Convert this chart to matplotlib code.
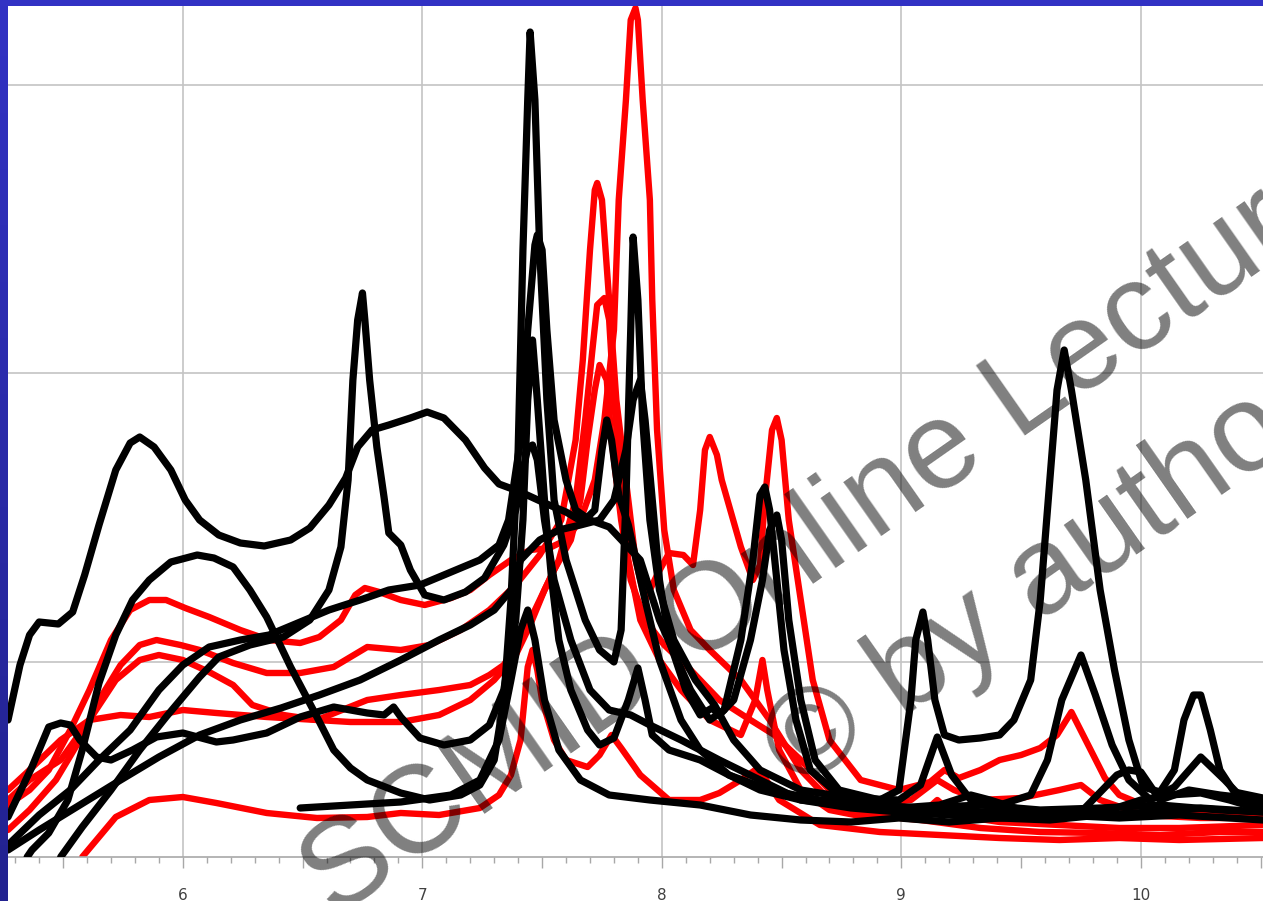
import matplotlib
matplotlib.use("Agg")
import matplotlib.pyplot as plt
import numpy as np
from matplotlib.patches import Rectangle
from matplotlib.ticker import MultipleLocator, FixedLocator, FixedFormatter
from matplotlib.colors import LinearSegmentedColormap

# ---------------- data (x = axis units, y = intensity, arbitrary units) ----------------
k1_x = [5.27, 5.32, 5.36, 5.40, 5.48, 5.54, 5.59, 5.65, 5.72, 5.78, 5.82, 5.88, 5.95, 6.01, 6.07, 6.15, 6.24, 6.34, 6.45,
        6.53, 6.61, 6.68, 6.73, 6.79, 6.86, 6.95, 7.02, 7.09, 7.18, 7.26, 7.32, 7.41, 7.51, 7.60, 7.67, 7.72, 7.75, 7.77,
        7.79, 7.82, 7.86, 7.93, 7.99, 8.08, 8.16, 8.28, 8.45, 8.66, 8.87, 9.08, 9.33, 9.58, 9.83, 10.08, 10.33, 10.51]
k1_y = [137, 192, 222, 235, 233, 245, 282, 332, 387, 414, 420, 410, 387, 357, 337, 322, 314, 311, 317,
        329, 352, 379, 410, 427, 432, 439, 445, 439, 417, 389, 373, 365, 354, 345, 335, 347, 407, 437,
        417, 362, 332, 257, 197, 137, 107, 82, 67, 57, 52, 49, 52, 47, 49, 52, 47, 45]

k2_x = [5.35, 5.37, 5.44, 5.52, 5.58, 5.65, 5.72, 5.79, 5.86, 5.95, 6.06, 6.13, 6.21, 6.28, 6.35, 6.45, 6.56, 6.63, 6.70,
        6.77, 6.91, 7.03, 7.16, 7.24, 7.30, 7.34, 7.37, 7.40, 7.42, 7.44, 7.45, 7.47, 7.49, 7.52, 7.55, 7.60, 7.68, 7.74,
        7.80, 7.83, 7.85, 7.87, 7.88, 7.90, 7.92, 7.95, 7.99, 8.05, 8.14, 8.22, 8.30, 8.41, 8.58, 8.79, 8.99, 9.08, 9.15,
        9.21, 9.29, 9.41, 9.54, 9.61, 9.67, 9.75, 9.81, 9.88, 9.95, 10.04, 10.14, 10.25, 10.35, 10.43, 10.51]
k2_y = [0, 7, 24, 57, 107, 174, 222, 257, 277, 295, 302, 299, 290, 267, 240, 190, 140, 107, 89,
        77, 64, 57, 62, 72, 97, 157, 257, 407, 607, 757, 825, 757, 607, 457, 357, 297, 237, 207,
        195, 227, 357, 527, 620, 557, 437, 337, 267, 217, 177, 152, 117, 87, 67, 59, 57, 72, 120,
        82, 57, 52, 62, 97, 157, 202, 162, 112, 77, 57, 70, 100, 77, 57, 52]

k3_x = [5.27, 5.40, 5.53, 5.65, 5.78, 5.90, 6.00, 6.11, 6.24, 6.36, 6.49, 6.61, 6.74, 6.86, 6.99, 7.12, 7.24, 7.32, 7.36,
        7.41, 7.44, 7.47, 7.48, 7.50, 7.52, 7.55, 7.60, 7.64, 7.70, 7.78, 7.91, 7.99, 8.12, 8.20, 8.26, 8.33, 8.38, 8.41,
        8.43, 8.45, 8.48, 8.51, 8.56, 8.62, 8.74, 8.91, 9.12, 9.37, 9.62, 9.87, 10.00, 10.12, 10.25, 10.37, 10.51]
k3_y = [12, 42, 67, 97, 127, 167, 192, 210, 217, 222, 235, 247, 257, 267, 272, 285, 297, 312, 337,
        417, 527, 612, 622, 607, 527, 437, 377, 347, 337, 330, 297, 237, 167, 137, 147, 217, 297, 362,
        370, 347, 277, 207, 137, 87, 62, 52, 47, 45, 42, 47, 57, 62, 64, 57, 47]

k4_x = [5.49, 5.58, 5.70, 5.82, 5.93, 6.07, 6.15, 6.28, 6.42, 6.53, 6.61, 6.66, 6.69, 6.71, 6.73, 6.75, 6.76, 6.78, 6.81,
        6.84, 6.86, 6.91, 6.95, 7.01, 7.09, 7.18, 7.26, 7.34, 7.39, 7.42, 7.44, 7.46, 7.48, 7.51, 7.55, 7.62, 7.70, 7.78,
        7.87, 7.95, 8.08, 8.24, 8.41, 8.58, 8.79, 8.99, 9.20, 9.41, 9.66, 9.91, 10.16, 10.51]
k4_y = [0, 30, 67, 107, 140, 180, 200, 212, 220, 237, 267, 310, 377, 477, 537, 564, 537, 477, 410,
        360, 324, 312, 287, 262, 257, 265, 279, 312, 347, 387, 409, 412, 397, 337, 277, 217, 167, 147,
        142, 132, 117, 97, 77, 57, 49, 45, 42, 39, 42, 39, 42, 37]

k5_x = [5.27, 5.37, 5.44, 5.49, 5.53, 5.57, 5.64, 5.70, 5.79, 5.89, 6.00, 6.14, 6.21, 6.35, 6.49, 6.63, 6.77, 6.84, 6.88,
        6.91, 6.99, 7.09, 7.20, 7.28, 7.34, 7.39, 7.42, 7.44, 7.46, 7.48, 7.51, 7.54, 7.57, 7.62, 7.69, 7.74, 7.80, 7.86,
        7.90, 7.93, 7.96, 8.03, 8.16, 8.28, 8.41, 8.58, 8.79, 8.99, 9.16, 9.29, 9.37, 9.50, 9.75, 9.90, 9.95, 10.00,
        10.08, 10.20, 10.33, 10.51]
k5_y = [40, 90, 130, 134, 132, 117, 100, 97, 107, 120, 124, 115, 117, 124, 140, 150, 144, 142, 150,
        140, 119, 112, 117, 132, 167, 237, 337, 457, 517, 457, 357, 277, 217, 167, 127, 112, 119, 157,
        189, 157, 122, 107, 97, 82, 67, 57, 52, 49, 52, 62, 57, 47, 45, 82, 87, 85,
        57, 67, 62, 57]

k6_x = [5.27, 5.40, 5.57, 5.74, 5.90, 6.07, 6.24, 6.41, 6.57, 6.74, 6.91, 7.07, 7.20, 7.30, 7.37, 7.41, 7.49, 7.57, 7.66,
        7.74, 7.80, 7.85, 7.88, 7.91, 7.93, 7.96, 7.99, 8.03, 8.10, 8.16, 8.21, 8.24, 8.30, 8.37, 8.42, 8.45, 8.48, 8.50,
        8.53, 8.58, 8.64, 8.74, 8.91, 8.99, 9.04, 9.06, 9.09, 9.11, 9.14, 9.18, 9.24, 9.33, 9.41, 9.47, 9.54, 9.58, 9.62,
        9.65, 9.68, 9.71, 9.77, 9.83, 9.89, 9.95, 10.01, 10.08, 10.14, 10.18, 10.22, 10.25, 10.29, 10.33, 10.39, 10.51]
k6_y = [7, 27, 52, 77, 100, 122, 137, 149, 162, 177, 197, 217, 232, 247, 267, 297, 317, 327, 332,
        337, 357, 407, 457, 477, 437, 357, 277, 217, 167, 142, 149, 142, 157, 217, 277, 327, 342, 317,
        237, 157, 97, 67, 57, 67, 157, 217, 245, 217, 157, 122, 117, 119, 122, 137, 177, 257, 377,
        467, 507, 467, 377, 267, 187, 117, 70, 65, 87, 137, 162, 162, 127, 87, 65, 59]

k7_x = [6.49, 6.70, 6.91, 7.12, 7.24, 7.32, 7.37, 7.41, 7.44, 7.47, 7.51, 7.57, 7.66, 7.78, 7.95, 8.16, 8.37, 8.58, 8.79,
        8.99, 9.20, 9.41, 9.62, 9.83, 10.04, 10.25, 10.51]
k7_y = [49, 52, 55, 62, 77, 117, 177, 227, 247, 217, 157, 107, 77, 62, 57, 52, 42, 37, 35,
        39, 35, 39, 37, 42, 45, 49, 45]

r1_x = [5.27, 5.36, 5.44, 5.53, 5.61, 5.70, 5.78, 5.86, 5.93, 6.01, 6.11, 6.24, 6.36, 6.49, 6.57, 6.66, 6.72, 6.76, 6.82,
        6.91, 7.01, 7.12, 7.20, 7.28, 7.37, 7.45, 7.53, 7.60, 7.66, 7.72, 7.76, 7.80, 7.82, 7.85, 7.87, 7.89, 7.90, 7.92,
        7.95, 7.96, 7.98, 8.01, 8.05, 8.12, 8.20, 8.33, 8.45, 8.58, 8.70, 8.87, 9.08, 9.33, 9.58, 9.83, 10.08, 10.33, 10.51]
r1_y = [52, 67, 87, 127, 167, 217, 247, 257, 257, 249, 240, 227, 217, 214, 220, 237, 262, 269, 265,
        257, 252, 259, 267, 282, 297, 307, 309, 317, 337, 377, 437, 527, 657, 757, 837, 849, 837, 757,
        657, 557, 427, 327, 267, 227, 207, 177, 137, 87, 57, 42, 37, 29, 25, 24, 22, 25, 25]

r2_x = [5.27, 5.36, 5.47, 5.57, 5.65, 5.74, 5.82, 5.89, 5.99, 6.07, 6.21, 6.35, 6.49, 6.63, 6.77, 6.91, 7.03, 7.16, 7.28,
        7.39, 7.49, 7.58, 7.64, 7.67, 7.70, 7.72, 7.73, 7.75, 7.77, 7.79, 7.81, 7.85, 7.89, 7.93, 7.98, 8.03, 8.09, 8.13,
        8.16, 8.18, 8.20, 8.23, 8.25, 8.33, 8.38, 8.41, 8.43, 8.46, 8.48, 8.50, 8.53, 8.58, 8.63, 8.70, 8.83, 8.99, 9.12,
        9.18, 9.24, 9.33, 9.41, 9.50, 9.58, 9.65, 9.71, 9.78, 9.85, 9.91, 10.04, 10.25, 10.51]
r2_y = [27, 47, 77, 117, 157, 192, 212, 217, 212, 207, 194, 184, 184, 190, 210, 207, 212, 227, 247,
        272, 302, 337, 417, 497, 607, 667, 674, 657, 590, 524, 457, 377, 297, 257, 282, 304, 302, 292,
        347, 407, 420, 402, 377, 310, 277, 292, 357, 427, 439, 417, 337, 257, 177, 117, 77, 67, 75,
        87, 79, 87, 97, 102, 109, 122, 145, 112, 79, 62, 49, 45, 42]

r3_x = [5.27, 5.36, 5.49, 5.61, 5.72, 5.82, 5.90, 6.00, 6.11, 6.21, 6.29, 6.42, 6.56, 6.70, 6.91, 7.07, 7.20, 7.30, 7.39,
        7.45, 7.51, 7.57, 7.64, 7.68, 7.71, 7.73, 7.76, 7.78, 7.80, 7.83, 7.86, 7.91, 7.99, 8.08, 8.20, 8.33, 8.39, 8.42,
        8.44, 8.49, 8.58, 8.70, 8.87, 9.08, 9.15, 9.22, 9.41, 9.66, 9.91, 10.16, 10.51]
r3_y = [57, 77, 97, 137, 177, 197, 202, 197, 185, 172, 152, 142, 137, 135, 135, 142, 157, 177, 202,
        232, 267, 297, 357, 437, 507, 552, 559, 537, 457, 377, 297, 237, 197, 167, 137, 122, 157, 197,
        167, 107, 67, 47, 39, 42, 57, 42, 35, 32, 29, 29, 32]

r4_x = [5.27, 5.36, 5.49, 5.61, 5.74, 5.86, 6.00, 6.14, 6.35, 6.56, 6.77, 6.91, 7.07, 7.20, 7.28, 7.34, 7.41, 7.49, 7.55,
        7.62, 7.66, 7.69, 7.72, 7.74, 7.77, 7.79, 7.83, 7.87, 7.93, 8.01, 8.12, 8.24, 8.37, 8.47, 8.58, 8.70, 8.87, 9.04,
        9.15, 9.22, 9.33, 9.50, 9.66, 9.75, 9.83, 10.01, 10.25, 10.51]
r4_y = [67, 87, 117, 137, 142, 140, 147, 144, 140, 137, 157, 162, 167, 172, 182, 192, 217, 257, 287,
        317, 357, 417, 467, 492, 477, 417, 337, 277, 237, 212, 187, 157, 137, 122, 97, 67, 52, 57,
        77, 67, 57, 59, 67, 72, 57, 42, 39, 39]

r5_x = [5.58, 5.72, 5.86, 6.00, 6.14, 6.35, 6.56, 6.77, 6.91, 7.07, 7.24, 7.32, 7.37, 7.41, 7.44, 7.46, 7.48, 7.50, 7.55,
        7.60, 7.69, 7.74, 7.79, 7.83, 7.91, 8.03, 8.16, 8.24, 8.33, 8.39, 8.43, 8.49, 8.66, 8.91, 9.16, 9.41, 9.66, 9.91,
        10.16, 10.51]
r5_y = [0, 40, 57, 60, 54, 44, 39, 40, 44, 42, 49, 62, 82, 117, 190, 207, 187, 157, 117,
        97, 90, 102, 122, 109, 82, 57, 57, 64, 77, 87, 79, 57, 32, 25, 22, 19, 17, 19,
        17, 19]

red_series = [(r1_x, r1_y), (r2_x, r2_y), (r3_x, r3_y), (r4_x, r4_y), (r5_x, r5_y)]
black_series = [(k7_x, k7_y), (k5_x, k5_y), (k4_x, k4_y), (k3_x, k3_y), (k6_x, k6_y), (k1_x, k1_y), (k2_x, k2_y)]

x_major = [5.5, 6, 6.5, 7, 7.5, 8, 8.5, 9, 9.5, 10, 10.5]
x_labels = ["", "6", "", "7", "", "8", "", "9", "", "10", ""]
x_grid = [6, 7, 8, 9, 10]
y_grid = [195, 484, 772]
watermark_1 = "SCMID Online Lecture"
watermark_2 = "\u00a9 by author"

# ---------------- figure ----------------
W, H = 1263, 901
fig = plt.figure(figsize=(W / 100, H / 100), dpi=100, facecolor="white")
ax = fig.add_axes([8 / W, (H - 857) / H, 1 - 8 / W, (857 - 6) / H])
ax.set_facecolor("white")
ax.set_xlim(5.27, 10.51)
ax.set_ylim(0, 851)

for gx in x_grid:
    ax.axvline(gx, color="#c4c4c4", lw=1.2, zorder=0)
for gy in y_grid:
    ax.axhline(gy, color="#c4c4c4", lw=1.2, zorder=0)

for xs, ys in red_series:
    ax.plot(xs, ys, color="#ff0000", lw=4.6, solid_joinstyle="round", solid_capstyle="round", zorder=2)
for xs, ys in black_series:
    ax.plot(xs, ys, color="#000000", lw=5.2, solid_joinstyle="round", solid_capstyle="round", zorder=3)

for s in ["left", "top", "right"]:
    ax.spines[s].set_visible(False)
ax.spines["bottom"].set_color("#a8a8a8")
ax.spines["bottom"].set_linewidth(1.2)
ax.set_yticks([])
ax.xaxis.set_major_locator(FixedLocator(x_major))
ax.xaxis.set_major_formatter(FixedFormatter(x_labels))
ax.xaxis.set_minor_locator(MultipleLocator(0.1))
ax.tick_params(axis="x", which="major", direction="out", length=8, width=1, color="#a8a8a8",
               labelsize=11, labelcolor="#404040", pad=14)
ax.tick_params(axis="x", which="minor", direction="out", length=4.5, width=1, color="#a8a8a8")

# blue frame (top band and left strip with gradient)
fig.patches.append(Rectangle((0, (H - 6) / H), 1, 6 / H, transform=fig.transFigure,
                             facecolor="#3232c4", edgecolor="none", zorder=5))
strip = fig.add_axes([0, 0, 8 / W, 1])
grad = np.linspace(0, 1, 256).reshape(-1, 1)
cm = LinearSegmentedColormap.from_list("bl", ["#3232c4", "#2a2aa8", "#222290"])
strip.imshow(grad, aspect="auto", cmap=cm, extent=[0, 1, 0, 1], origin="upper")
strip.set_axis_off()

# watermark (runs off the right edge, as in the original)
fig.text(828 / W, 1 - 534 / H, watermark_1, rotation=35, rotation_mode="anchor",
         ha="center", va="center", fontsize=90, family="Liberation Sans",
         color="black", alpha=0.5, zorder=10)
fig.text(1045 / W, 1 - 580 / H, watermark_2, rotation=35, rotation_mode="anchor",
         ha="center", va="center", fontsize=90, family="Liberation Sans",
         color="black", alpha=0.5, zorder=10)

fig.savefig("out.png", dpi=100, facecolor="white")
